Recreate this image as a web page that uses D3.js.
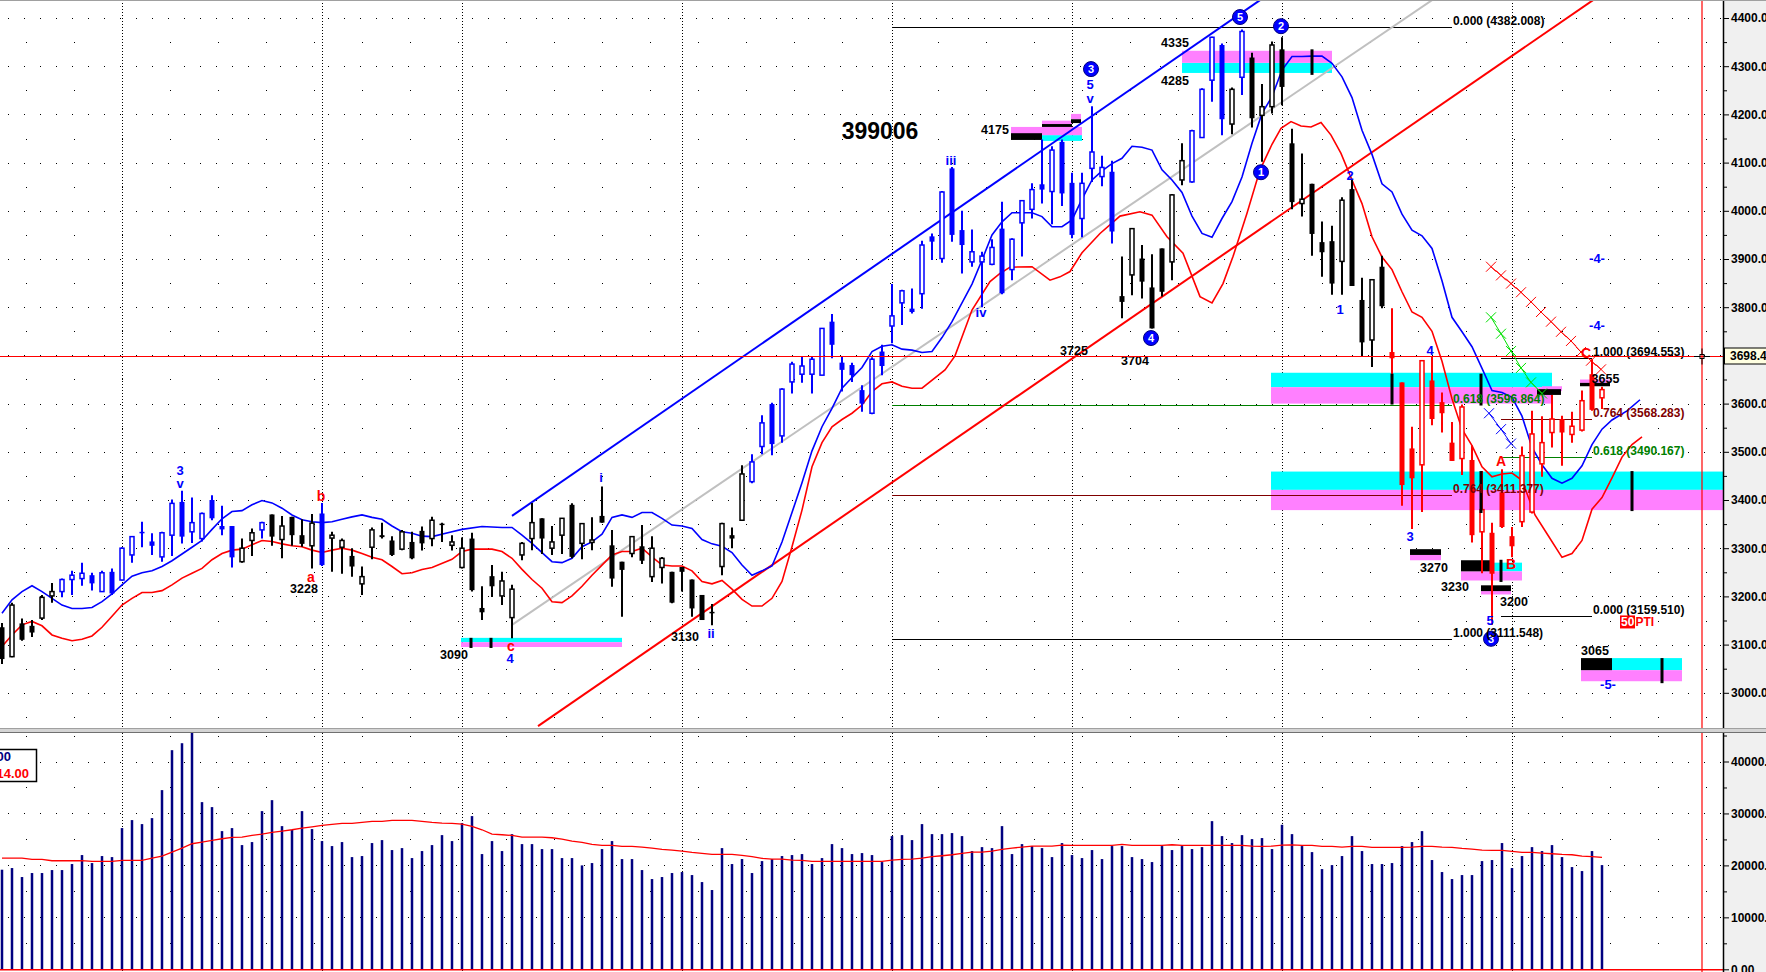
<!DOCTYPE html>
<html>
<head>
<meta charset="utf-8">
<script src="https://cdn.jsdelivr.net/npm/d3@7"></script>
<style>
  body { margin: 0; background: #fff; overflow: hidden; }
  svg text { font-family: "Liberation Sans", Arial, sans-serif; }
</style>
</head>
<body>
<div id="chart-area"></div>
<script>
// ---- bars (daily OHLC), index 0..160
var opens = [3136,3075,3144,3139,3155,3201,3210,3235,3237,3244,
	3210,3251,3234,3286,3334,3314,3282,3327,3396,3334,
	3320,3400,3346,3346,3272,3316,3338,3370,3318,3365,
	3327,3305,3372,3321,3302,3284,3226,3302,3327,3316,
	3298,3313,3336,3320,3351,3306,3260,3320,3176,3242,
	3201,3156,3286,3320,3362,3300,3327,3390,3310,3312,
	3367,3306,3272,3289,3304,3241,3260,3251,3261,3235,
	3203,3168,3262,3327,3358,3438,3511,3599,3533,3645,
	3661,3661,3659,3770,3685,3680,3628,3580,3708,3761,
	3809,3797,3828,3947,3901,4088,3960,3894,3894,3889,
	3963,3878,3975,4003,4055,4040,4143,4058,3984,4088,
	4071,4081,3823,3867,3901,3841,3922,3894,4064,4060,
	4152,4271,4344,4180,4277,4318,4198,4216,4335,4140,
	4015,4056,3935,3937,3895,4045,3815,3732,3884,3707,
	3644,3507,3473,3648,3603,3519,3486,3483,3334,3332,
	3416,3325,3355,3375,3475,3540,3568,3536,3545,3661,
	3612];
var highs = [3145,3187,3154,3151,3203,3228,3237,3253,3270,3249,
	3253,3258,3302,3325,3355,3331,3334,3401,3419,3405,
	3374,3410,3388,3346,3320,3341,3355,3370,3367,3365,
	3360,3371,3394,3334,3320,3300,3262,3343,3353,3325,
	3338,3334,3345,3365,3353,3327,3322,3332,3221,3265,
	3251,3224,3313,3394,3362,3346,3362,3393,3351,3364,
	3428,3338,3272,3325,3348,3325,3282,3251,3261,3235,
	3203,3184,3353,3343,3472,3495,3576,3602,3632,3687,
	3697,3699,3756,3786,3699,3685,3638,3696,3722,3848,
	3836,3839,3938,3953,4041,4091,4000,3961,3915,3941,
	4019,3943,4022,4057,4148,4134,4148,4079,4079,4217,
	4114,4104,3905,3963,3929,3910,3922,4035,4140,4168,
	4254,4361,4347,4256,4376,4328,4263,4351,4360,4170,
	4119,4056,3978,3969,4028,4066,3861,3857,3907,3798,
	3644,3552,3689,3699,3623,3562,3598,3513,3460,3353,
	3464,3344,3511,3585,3574,3618,3575,3583,3627,3692,
	3635];
var lows = [3060,3074,3108,3116,3151,3187,3198,3203,3222,3212,
	3210,3203,3233,3270,3302,3286,3272,3284,3310,3311,
	3314,3358,3327,3260,3270,3284,3320,3305,3279,3305,
	3303,3258,3263,3251,3247,3241,3203,3277,3320,3284,
	3296,3277,3295,3304,3313,3295,3258,3210,3151,3199,
	3182,3113,3275,3296,3288,3286,3288,3279,3277,3296,
	3353,3220,3158,3281,3267,3230,3227,3186,3210,3158,
	3151,3140,3244,3300,3357,3435,3495,3493,3519,3621,
	3643,3621,3659,3694,3625,3645,3583,3578,3659,3725,
	3763,3787,3797,3898,3892,3936,3870,3884,3800,3887,
	3827,3856,3905,3984,4015,3972,4010,3943,3945,4060,
	4051,3932,3777,3825,3818,3756,3822,3856,4053,4058,
	4152,4226,4157,4159,4240,4173,4102,4202,4219,4003,
	3988,3907,3863,3826,3826,3844,3699,3676,3798,3660,
	3388,3340,3375,3555,3540,3481,3452,3312,3248,3141,
	3342,3281,3344,3372,3448,3509,3471,3519,3542,3585,
	3589];
var closes = [3070,3182,3110,3125,3198,3210,3235,3244,3248,3227,
	3249,3206,3300,3324,3331,3305,3332,3393,3324,3353,
	3372,3362,3339,3281,3300,3332,3353,3324,3346,3327,
	3309,3352,3265,3327,3316,3262,3241,3338,3323,3286,
	3334,3279,3310,3358,3348,3313,3300,3213,3167,3221,
	3232,3215,3310,3353,3320,3313,3362,3282,3351,3317,
	3353,3237,3255,3324,3274,3300,3279,3187,3251,3175,
	3151,3165,3351,3320,3454,3479,3560,3516,3630,3682,
	3678,3692,3756,3722,3670,3659,3600,3692,3678,3782,
	3834,3790,3929,3936,4039,3950,3929,3915,3906,3924,
	3829,3941,4021,4044,4044,4126,4036,3950,4057,4122,
	4090,3957,3811,3963,3853,3756,3832,4033,4104,4166,
	4252,4360,4190,4252,4372,4192,4216,4344,4257,4018,
	4024,3952,3914,3849,4022,3844,3727,3857,3802,3694,
	3431,3445,3689,3568,3580,3481,3593,3327,3380,3247,
	3344,3304,3492,3537,3519,3568,3540,3553,3606,3587,
	3629];
var volumes = [19170,19490,17760,18530,18530,19100,19100,20260,21990,20450,
	21800,21600,27180,28720,27950,29100,34490,42180,43520,45640,
	32180,31220,26600,27180,23910,24490,30450,32560,27560,26860,
	30450,26990,24680,23720,24490,21600,21800,24300,24870,22950,
	23330,21410,22760,23910,25830,24680,28140,29490,22180,24680,
	22760,26020,24100,24100,23140,23140,21410,21410,20000,20450,
	23140,24680,21220,21220,19100,17370,17760,18530,18720,18140,
	16790,15260,23330,20260,21220,18530,20830,21220,21800,21990,
	22180,20260,21410,24100,23330,22180,22370,21990,20640,25640,
	25830,24870,27950,26020,26020,26220,25640,22760,23520,23330,
	27560,22180,24100,23720,23330,21600,24300,21990,21410,22950,
	21220,23720,23720,21600,21220,20640,23720,22950,23720,23140,
	23520,28520,25640,24300,25830,25060,25260,23140,27820,26020,
	23720,22560,19290,20060,21800,25640,22760,20260,20260,20450,
	23720,24490,26600,21030,18720,17370,18140,18140,20830,21030,
	24300,19490,21800,23520,22760,23910,21600,19680,18910,22760,
	20060];
var volumeAvg = [21400,21400,21400,21150,21150,20900,20900,20900,20900,20770,
	20770,20770,20960,20960,20960,21410,21800,22560,23330,24170,
	24490,24810,25130,25380,25450,25770,26020,26350,26600,26860,
	27180,27430,27690,27880,28080,28080,28270,28460,28460,28650,
	28650,28650,28460,28270,28140,28080,27950,27500,26860,26020,
	25900,25770,25450,25450,25450,25320,25060,24680,24420,24040,
	23850,23850,23650,23650,23520,23330,23080,22950,22760,22500,
	22310,22120,22120,22120,21920,21670,21350,21220,21220,21030,
	20960,20770,20770,20770,20770,20770,20770,20770,20770,21030,
	21150,21220,21410,21670,21860,22050,22310,22560,22560,22760,
	23080,23330,23520,23720,23720,23720,23910,23850,23850,23850,
	23850,23850,24040,23850,23850,23850,23850,23970,23850,23850,
	23850,23850,23850,23850,23850,23720,23650,23720,23910,23970,
	23850,23850,23650,23650,23520,23650,23650,23460,23460,23460,
	23460,23520,23650,23650,23520,23460,23270,23140,22950,22880,
	22880,22690,22500,22500,22370,22240,22120,22050,21800,21670,
	21540];

// bar colouring by wave leg
var impulseLegs = [[6, 23], [26, 26], [32, 32], [75, 111], [119, 122], [124, 124]];
var correctiveLegs = [[139, 160]];

// moving averages, [bar, value]
var fastAvg = [[0,3165],[1,3193],[2,3210],[3,3222],[4,3210],[5,3196],[6,3182],[7,3175],[8,3175],[9,3177],
	[10,3189],[11,3205],[12,3224],[13,3242],[14,3249],[15,3253],[16,3262],[17,3274],[18,3288],[19,3302],
	[20,3316],[21,3339],[22,3361],[23,3376],[24,3378],[25,3390],[26,3399],[27,3394],[28,3383],[29,3369],
	[30,3359],[31,3355],[32,3353],[33,3355],[34,3360],[35,3365],[36,3369],[37,3364],[38,3360],[39,3346],
	[40,3334],[41,3331],[42,3325],[43,3324],[45,3334],[46,3339],[48,3345],[50,3343],[51,3343],[52,3327],
	[53,3310],[54,3291],[55,3272],[56,3270],[57,3279],[58,3303],[59,3313],[60,3329],[61,3364],[62,3369],
	[63,3364],[64,3374],[65,3374],[66,3362],[67,3348],[68,3346],[69,3341],[70,3318],[71,3309],[72,3304],
	[73,3291],[74,3265],[75,3244],[76,3253],[77,3263],[78,3313],[79,3374],[80,3436],[81,3502],[82,3552],
	[83,3590],[84,3632],[85,3654],[86,3675],[87,3708],[88,3719],[89,3722],[90,3713],[91,3711],[92,3706],
	[93,3708],[94,3737],[95,3770],[96,3809],[97,3848],[98,3898],[99,3950],[100,3977],[101,3996],[102,3996],
	[103,3996],[104,3988],[105,3967],[106,3967],[107,3981],[108,4024],[109,4064],[110,4083],[111,4098],[112,4109],
	[113,4134],[114,4132],[115,4126],[116,4085],[117,4064],[118,4038],[119,3989],[120,3953],[121,3945],[122,3984],
	[123,4019],[124,4070],[125,4140],[126,4202],[127,4237],[128,4292],[129,4320],[130,4320],[131,4321],[132,4321],
	[133,4306],[134,4278],[135,4235],[136,4167],[137,4117],[138,4056],[139,4039],[140,3993],[141,3960],[142,3948],
	[143,3922],[144,3855],[145,3779],[146,3749],[147,3718],[148,3673],[149,3627],[150,3623],[151,3613],[152,3574],
	[153,3509],[154,3473],[155,3445],[156,3435],[157,3445],[158,3471],[159,3515],[160,3547],[161,3566],[162.5,3585],
	[163.8,3608]];
var slowAvg = [[0,3096],[1,3120],[2,3141],[3,3148],[4,3139],[5,3120],[6,3113],[7,3108],[8,3111],[9,3118],
	[10,3136],[11,3159],[12,3182],[13,3196],[14,3208],[15,3208],[16,3212],[17,3224],[18,3238],[19,3248],
	[20,3258],[21,3276],[22,3289],[23,3296],[24,3298],[25,3307],[26,3316],[27,3314],[28,3309],[29,3305],
	[30,3303],[31,3296],[32,3291],[33,3296],[34,3300],[35,3296],[36,3289],[37,3281],[38,3276],[39,3262],
	[40,3247],[41,3249],[42,3256],[43,3260],[45,3277],[46,3293],[47,3298],[48,3298],[49,3298],[50,3293],
	[51,3279],[52,3256],[53,3235],[54,3217],[55,3189],[56,3187],[57,3201],[58,3221],[59,3244],[60,3265],
	[61,3286],[62,3293],[63,3293],[64,3300],[65,3282],[66,3265],[67,3263],[68,3263],[69,3253],[70,3231],
	[71,3226],[72,3233],[73,3215],[74,3194],[75,3180],[76,3180],[77,3196],[78,3231],[79,3303],[80,3379],
	[81,3469],[82,3519],[83,3552],[84,3567],[85,3580],[86,3597],[87,3625],[88,3641],[89,3645],[90,3636],
	[91,3632],[92,3632],[94.3,3670],[95.3,3699],[97,3794],[98.8,3853],[99.8,3870],[100.8,3883],[103,3884],[104.8,3856],
	[105.8,3863],[106.8,3874],[108,3913],[109.8,3953],[111.8,3989],[113.8,3998],[115,3991],[116.5,3946],[118.1,3912],[119.8,3822],
	[121,3809],[122.1,3849],[123.1,3905],[124.5,3995],[125.8,4085],[127,4138],[127.9,4171],[128.9,4185],[129.9,4176],[130.9,4174],
	[131.9,4183],[132.9,4157],[133.9,4119],[135,4064],[136,4015],[137,3946],[138,3904],[139,3878],[140,3832],[141,3790],
	[142,3779],[143,3750],[144,3688],[145,3610],[146,3547],[147,3513],[148,3469],[149,3448],[150,3454],[151,3456],
	[152,3441],[153.3,3369],[154.5,3330],[156,3281],[157,3289],[158,3316],[159,3381],[160,3405],[161,3446],[162,3489],
	[163,3515],[164,3531]];

// trend lines, [bar, price]
var upperChannel = [[51, 3367], [125.8, 4437]];
var lowerChannel = [[53.6, 2931], [159.1, 4437]];
var midLine = [[51, 3141], [143, 4437]];

// projected paths
var redPath = [[148.9,3884],[149.9,3866],[150.9,3849],[151.9,3831],[152.9,3811],[153.9,3790],[154.9,3770],[155.9,3749],[156.9,3730],[157.9,3707],[158.9,3689],[159.9,3671]];
var greenPath = [[148.9,3779],[149.9,3745],[150.9,3709],[151.9,3674],[152.9,3644],[154,3621]];
var bluePath = [[148.7,3580],[149.9,3547],[150.9,3517]];

// fibonacci retracements
var fibLevels = ["0.000", "0.618", "0.764", "1.000"];
var fibUpValues = [4382.008, 3596.864, 3411.377, 3111.548];
var fibUpSpan = [89, 145];
var fibDownValues = [3159.510, 3490.167, 3568.283, 3694.553];
var fibDownSpan = [149.9, 159];

// support / resistance boxes, [bar0, bar1, top, bottom]
var cyanZones = [[45.9,62,3114,3105],[104,108,4157,4145],[118,133,4307,4286],[126.9,155,3664,3634],
	[126.9,172.1,3459,3421],[148.8,152,3270,3252],[161,168,3072,3047]];
var pinkZones = [[45.9,62,3105,3095],[100.9,108,4174,4157],[104,107,4187,4180],[106.9,107.9,4201,4190],
	[118,133,4332,4307],[126.9,155,3634,3600],[154,156,3636,3626],[157.8,160.8,3650,3643],
	[126.9,172.1,3421,3379],[140.8,143.9,3286,3275],[145.9,152,3252,3233],[147.9,150.9,3211,3204],
	[157.9,168,3047,3024]];
var blackZones = [[100.9,104,4161,4147],[104,107,4180,4174],[106.9,107.9,4190,4182],[153.5,155.9,3630,3618],
	[157.8,160.8,3643,3636],[140.8,143.9,3298,3286],[145.9,148.8,3275,3252],[147.9,150.9,3223,3211],
	[157.9,161,3072,3047]];
var markerBars = [[46.9,3114,3093],[48.9,3114,3093],[131,4335,4282],[163,3460,3377],[166,3072,3020],
	[139,3662,3598],[147.9,3662,3596],[147.9,3460,3373],[149.9,3276,3230]];

// annotations, [bar, price, text]
var waveLabels = [[17.8,3462,"3"],[17.8,3435,"v"],[59.9,3446,"i"],[50.8,3072,"4"],[70.9,3122,"ii"],
	[94.9,4105,"iii"],[97.9,3790,"iv"],[108.8,4261,"5"],[108.8,4232,"v"],[134.8,4074,"2"],[133.8,3796,"1"],
	[142.8,3711,"4"],[140.8,3325,"3"],[148.8,3149,"5"],[159.5,3902,"-4-"],[159.5,3761,"-4-"],[160.6,3018,"-5-"]];
var subLabels = [[31.9,3408,"b"],[30.9,3240,"a"],[50.9,3097,"c"],[149.9,3481,"A"],[150.9,3267,"B"],[158.4,3705,"C"]];
var priceLabels = [[30.2,3215,"3228"],[45.2,3078,"3090"],[68.3,3116,"3130"],[99.3,4168,"4175"],[107.2,3709,"3725"],
	[113.3,3688,"3704"],[117.3,4348,"4335"],[117.3,4269,"4285"],[143.2,3259,"3270"],[145.3,3220,"3230"],
	[151.2,3188,"3200"],[160.35,3651,"3655"],[159.3,3087,"3065"]];
var circleLabels = [[108.9,4294,"3"],[123.8,4402,"5"],[127.9,4383,"2"],[125.9,4080,"1"],[114.9,3736,"4"],[148.9,3112,"3"]];
var symbolLabel = [87.8, 4166, "399006"];
var ptiLabel = [161.9, 3147];
var cursorBar = 170, cursorPrice = 3698.4;

// months start on these bars
var monthStarts = [12, 32, 46, 68, 89, 107, 128, 151];

var priceTicks = d3.range(3000, 4401, 100);
var volumeTicks = d3.range(0, 40001, 10000);

// ---------------------------------------------------------------
var width = 1766, height = 972;
var axisX = 1723;
var priceBottom = 728, volTop = 733;

var svg = d3.select("#chart-area")
	.append("svg")
	.attr("width", width)
	.attr("height", height)
	.style("display", "block");

var x = d3.scaleLinear().domain([0, 160]).range([2, 1602]);
var y = d3.scaleLinear().domain([4400, 3000]).range([18, 692.8]);
var yv = d3.scaleLinear().domain([0, 40000]).range([969.3, 761.5]);

var legColor = d3.scaleOrdinal()
	.domain(["plain", "impulse", "corrective"])
	.range(["#000000", "#0000ff", "#ff0000"]);
var fibColor = d3.scaleOrdinal()
	.domain(fibLevels)
	.range(["#000000", "#008000", "#800000", "#000000"]);

function legOf(i) {
	if (impulseLegs.some(r => i >= r[0] && i <= r[1])) return "impulse";
	if (correctiveLegs.some(r => i >= r[0] && i <= r[1])) return "corrective";
	return "plain";
}

var defs = svg.append("defs");
defs.append("clipPath").attr("id", "clip-price")
	.append("rect").attr("x", 0).attr("y", 0).attr("width", axisX).attr("height", priceBottom);
defs.append("clipPath").attr("id", "clip-vol")
	.append("rect").attr("x", 0).attr("y", volTop).attr("width", axisX).attr("height", height - volTop);

svg.append("rect").attr("width", width).attr("height", height).attr("fill", "#fff");

var price = svg.append("g").attr("clip-path", "url(#clip-price)");
var vol = svg.append("g").attr("clip-path", "url(#clip-vol)");

// grid
function dotRows(g, scale, values, x0, gap) {
	g.append("g").selectAll("line").data(values).enter().append("line")
		.attr("x1", x0).attr("x2", axisX)
		.attr("y1", d => Math.round(scale(d)) + 0.5)
		.attr("y2", d => Math.round(scale(d)) + 0.5)
		.attr("stroke", "#000")
		.attr("stroke-dasharray", "1," + gap);
}
dotRows(price, y, priceTicks, 8, 15);
dotRows(price, y, d3.range(2950, 4451, 100), 26, 47);
dotRows(vol, yv, d3.range(10000, 40001, 10000), 8, 15);
dotRows(vol, yv, d3.range(5000, 45001, 10000), 26, 47);

[[price, 0, priceBottom], [vol, volTop, height]].forEach(function (p) {
	p[0].append("g").selectAll("line").data(monthStarts).enter().append("line")
		.attr("x1", d => Math.round(x(d)) + 0.5).attr("x2", d => Math.round(x(d)) + 0.5)
		.attr("y1", p[1]).attr("y2", p[2])
		.attr("stroke", "#000")
		.attr("stroke-dasharray", "1,2");
});

// zones
function zones(data, fill) {
	price.append("g").selectAll("rect").data(data).enter().append("rect")
		.attr("x", d => x(d[0]))
		.attr("width", d => x(d[1]) - x(d[0]))
		.attr("y", d => y(d[2]))
		.attr("height", d => y(d[3]) - y(d[2]))
		.attr("fill", fill);
}
zones(cyanZones, "#00ffff");
zones(pinkZones, "#ff80ff");
zones(blackZones, "#000000");

// fib lines
function fibSet(values, span) {
	var g = price.append("g");
	g.selectAll("line").data(values).enter().append("line")
		.attr("x1", x(span[0])).attr("x2", x(span[1]))
		.attr("y1", d => Math.round(y(d)) + 0.5).attr("y2", d => Math.round(y(d)) + 0.5)
		.attr("stroke", (d, i) => fibColor(fibLevels[i]))
		.attr("stroke-width", 1);
}
fibSet(fibUpValues, fibUpSpan);
fibSet(fibDownValues, fibDownSpan);

// trend lines
var pathLine = d3.line().x(d => x(d[0])).y(d => y(d[1]));
price.append("path").attr("d", pathLine(midLine)).attr("fill", "none").attr("stroke", "#c0c0c0").attr("stroke-width", 2);
price.append("path").attr("d", pathLine(upperChannel)).attr("fill", "none").attr("stroke", "#0000ff").attr("stroke-width", 2);
price.append("path").attr("d", pathLine(lowerChannel)).attr("fill", "none").attr("stroke", "#ff0000").attr("stroke-width", 2);

// moving averages
price.append("path").attr("d", pathLine(fastAvg)).attr("fill", "none").attr("stroke", "#0000ff").attr("stroke-width", 1.6);
price.append("path").attr("d", pathLine(slowAvg)).attr("fill", "none").attr("stroke", "#ff0000").attr("stroke-width", 1.6);

// candles
var candles = opens.map((o, i) => ({ i: i, o: o, h: highs[i], l: lows[i], c: closes[i], leg: legOf(i) }));
var cg = price.append("g");
cg.selectAll("line").data(candles).enter().append("line")
	.attr("x1", d => x(d.i)).attr("x2", d => x(d.i))
	.attr("y1", d => y(d.h)).attr("y2", d => y(d.l))
	.attr("stroke", d => legColor(d.leg))
	.attr("stroke-width", 2);
cg.selectAll("rect").data(candles).enter().append("rect")
	.attr("x", d => d.c < d.o ? x(d.i) - 2.5 : x(d.i) - 2)
	.attr("width", d => d.c < d.o ? 5 : 4)
	.attr("y", d => y(Math.max(d.o, d.c)))
	.attr("height", d => Math.max(1.5, Math.abs(y(d.o) - y(d.c))))
	.attr("fill", d => d.c < d.o ? legColor(d.leg) : "#fff")
	.attr("stroke", d => legColor(d.leg))
	.attr("stroke-width", d => d.c < d.o ? 0 : 1.5);

// marker ticks
price.append("g").selectAll("rect").data(markerBars).enter().append("rect")
	.attr("x", d => x(d[0]) - 1.5).attr("width", 3)
	.attr("y", d => y(d[1])).attr("height", d => y(d[2]) - y(d[1]))
	.attr("fill", "#000");

// projected paths with crosses
function crossPath(data, color) {
	var g = price.append("g");
	g.append("path").attr("d", pathLine(data)).attr("fill", "none").attr("stroke", color).attr("stroke-width", 1);
	g.selectAll("path.x").data(data).enter().append("path")
		.attr("class", "x")
		.attr("d", d => {
			var cx = x(d[0]), cy = y(d[1]), s = 5;
			return "M" + (cx - s) + "," + (cy - s) + "L" + (cx + s) + "," + (cy + s) +
				"M" + (cx - s) + "," + (cy + s) + "L" + (cx + s) + "," + (cy - s);
		})
		.attr("stroke", color).attr("stroke-width", 1);
}
crossPath(redPath, "#ff0000");
crossPath(greenPath, "#00e000");
crossPath(bluePath, "#0000ff");

// cursor lines
svg.append("line")
	.attr("x1", 0).attr("x2", axisX)
	.attr("y1", Math.round(y(cursorPrice)) + 0.5).attr("y2", Math.round(y(cursorPrice)) + 0.5)
	.attr("stroke", "#ff0000").attr("stroke-width", 1.2);
svg.append("line")
	.attr("x1", x(cursorBar)).attr("x2", x(cursorBar))
	.attr("y1", 0).attr("y2", height)
	.attr("stroke", "#ff0000").attr("stroke-width", 1.2);

// text annotations
var ann = price.append("g");
function labels(data, color, size, weight) {
	ann.append("g").selectAll("text").data(data).enter().append("text")
		.attr("x", d => x(d[0])).attr("y", d => y(d[1]))
		.attr("text-anchor", "middle").attr("dominant-baseline", "central")
		.attr("font-size", size + "px").attr("font-weight", weight)
		.attr("fill", color)
		.text(d => d[2]);
}
labels(waveLabels, "#0000ff", 13, "bold");
labels(subLabels, "#ff0000", 14, "bold");
labels(priceLabels, "#000", 12.5, "bold");

var circ = ann.append("g").selectAll("g").data(circleLabels).enter().append("g")
	.attr("transform", d => "translate(" + x(d[0]) + "," + y(d[1]) + ")");
circ.append("circle").attr("r", 7.5).attr("fill", "#0000ff").attr("stroke", "#000080").attr("stroke-width", 1);
circ.append("text").attr("text-anchor", "middle").attr("dominant-baseline", "central")
	.attr("font-size", "11px").attr("font-weight", "bold").attr("fill", "#fff")
	.text(d => d[2]);

ann.append("text")
	.attr("x", x(symbolLabel[0])).attr("y", y(symbolLabel[1]))
	.attr("text-anchor", "middle").attr("dominant-baseline", "central")
	.attr("font-size", "23px").attr("font-weight", "bold").attr("fill", "#000")
	.text(symbolLabel[2]);

function fibLabels(values, at) {
	ann.append("g").selectAll("text").data(values).enter().append("text")
		.attr("x", x(at)).attr("y", d => y(d) - 2)
		.attr("font-size", "12px").attr("font-weight", "bold")
		.attr("fill", (d, i) => fibColor(fibLevels[i]))
		.text((d, i) => fibLevels[i] + " (" + d3.format(".3f")(d) + ")");
}
fibLabels(fibUpValues, fibUpSpan[1] + 0.1);
fibLabels(fibDownValues, fibDownSpan[1] + 0.1);

var pti = ann.append("g").attr("transform", "translate(" + x(ptiLabel[0]) + "," + y(ptiLabel[1]) + ")");
pti.append("rect").attr("x", -1).attr("y", -6.5).attr("width", 15).attr("height", 13).attr("fill", "#ff0000");
pti.append("text").attr("x", 0).attr("dominant-baseline", "central")
	.attr("font-size", "12px").attr("font-weight", "bold").attr("fill", "#fff").text("50");
pti.append("text").attr("x", 14.5).attr("dominant-baseline", "central")
	.attr("font-size", "12px").attr("font-weight", "bold").attr("fill", "#ff0000").text("PTI");

// volume
vol.append("g").selectAll("rect").data(volumes).enter().append("rect")
	.attr("x", (d, i) => x(i) - 1.25).attr("width", 2.5)
	.attr("y", d => yv(d)).attr("height", d => yv(0) - yv(d))
	.attr("fill", "#000080");
vol.append("path")
	.attr("d", d3.line().x((d, i) => x(i)).y(d => yv(d))(volumeAvg))
	.attr("fill", "none").attr("stroke", "#ff0000").attr("stroke-width", 1.3);
vol.append("line").attr("x1", 0).attr("x2", axisX)
	.attr("y1", yv(0) + 0.5).attr("y2", yv(0) + 0.5)
	.attr("stroke", "#ff0000").attr("stroke-width", 1.5);

var legend = svg.append("g");
legend.append("rect").attr("x", -2).attr("y", 749.5).attr("width", 38.5).attr("height", 32)
	.attr("fill", "#fff").attr("stroke", "#000").attr("stroke-width", 1.5);
legend.append("text").attr("x", 11).attr("y", 761).attr("text-anchor", "end")
	.attr("font-size", "13px").attr("font-weight", "bold").attr("fill", "#000080").text("00");
legend.append("text").attr("x", 29).attr("y", 778).attr("text-anchor", "end")
	.attr("font-size", "13px").attr("font-weight", "bold").attr("fill", "#ff0000").text("14.00");

// axis panel
svg.append("rect").attr("x", axisX).attr("width", width - axisX).attr("height", height).attr("fill", "#f0f0f0");
svg.append("line").attr("x1", axisX + 0.5).attr("x2", axisX + 0.5).attr("y1", 0).attr("y2", height)
	.attr("stroke", "#000").attr("stroke-width", 1.5);

function styleAxis(g) {
	g.select(".domain").remove();
	g.selectAll(".tick line").attr("stroke", "#000");
	g.selectAll(".tick text").attr("font-size", "12px").attr("font-weight", "bold").attr("fill", "#000")
		.attr("font-family", "'Liberation Sans', Arial, sans-serif");
}
var yAxisG = svg.append("g").attr("transform", "translate(" + (axisX + 1) + ",0)")
	.call(d3.axisRight(y).tickValues(priceTicks).tickSize(5).tickPadding(2).tickFormat(d3.format(".2f")));
styleAxis(yAxisG);
var yMinor = svg.append("g").attr("transform", "translate(" + (axisX + 1) + ",0)")
	.call(d3.axisRight(y).tickValues(d3.range(3050, 4401, 100)).tickSize(3).tickFormat(""));
styleAxis(yMinor);

var vAxisG = svg.append("g").attr("transform", "translate(" + (axisX + 1) + ",0)")
	.call(d3.axisRight(yv).tickValues(volumeTicks).tickSize(5).tickPadding(2).tickFormat(d3.format(".2f")));
styleAxis(vAxisG);
var vMinor = svg.append("g").attr("transform", "translate(" + (axisX + 1) + ",0)")
	.call(d3.axisRight(yv).tickValues(d3.range(5000, 45001, 10000)).tickSize(3).tickFormat(""));
styleAxis(vMinor);

// current price tag
var tag = svg.append("g").attr("transform", "translate(" + axisX + "," + Math.round(y(cursorPrice)) + ")");
tag.append("rect").attr("x", 1.5).attr("y", -8).attr("width", 44).attr("height", 16)
	.attr("fill", "#ffffe1").attr("stroke", "#000").attr("stroke-width", 1);
tag.append("text").attr("x", 7).attr("dominant-baseline", "central")
	.attr("font-size", "12px").attr("font-weight", "bold").attr("fill", "#000").text("3698.4");

// crosshair
var ch = svg.append("g").attr("transform", "translate(" + x(cursorBar) + "," + (Math.round(y(cursorPrice)) + 0.5) + ")");
ch.append("path").attr("d", "M-8,0H-2M2,0H8M0,-8V-2M0,2V8").attr("stroke", "#000").attr("stroke-width", 1);
ch.append("rect").attr("x", -2).attr("y", -2).attr("width", 4).attr("height", 4).attr("fill", "none").attr("stroke", "#000");

// panel separator and frame
svg.append("rect").attr("x", 0).attr("y", priceBottom).attr("width", width).attr("height", volTop - priceBottom).attr("fill", "#d4d4d4");
svg.append("line").attr("x1", 0).attr("x2", width).attr("y1", priceBottom + 0.5).attr("y2", priceBottom + 0.5).attr("stroke", "#a0a0a0");
svg.append("line").attr("x1", 0).attr("x2", width).attr("y1", volTop - 0.5).attr("y2", volTop - 0.5).attr("stroke", "#707070");
svg.append("line").attr("x1", 0).attr("x2", width).attr("y1", 0.5).attr("y2", 0.5).attr("stroke", "#a0a0a0");
</script>
</body>
</html>
